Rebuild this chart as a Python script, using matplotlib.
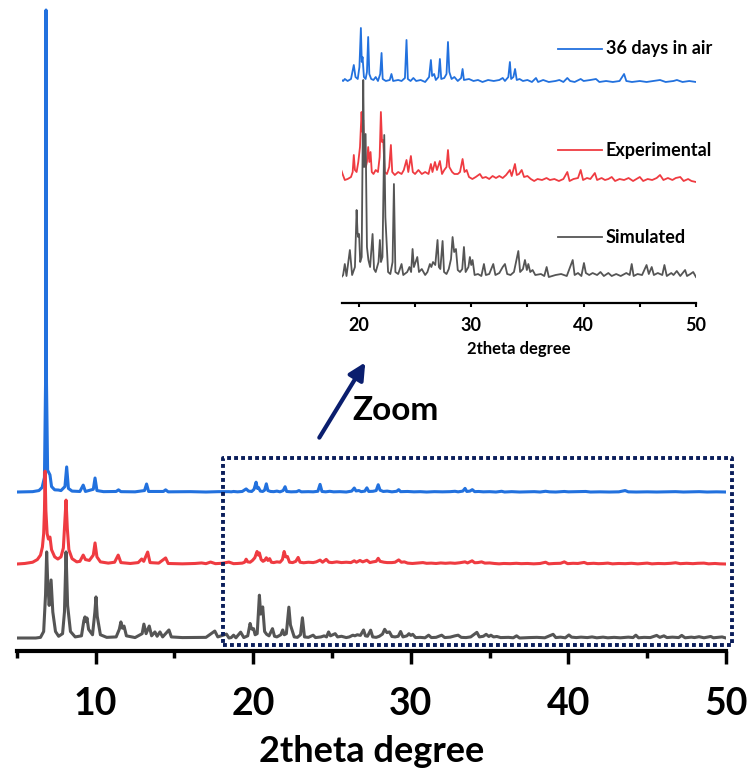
import matplotlib
matplotlib.use('Agg')
import matplotlib.pyplot as plt
import numpy as np

plt.rcParams['font.family'] = ['Lato', 'DejaVu Sans']
plt.rcParams['font.weight'] = 'bold'

# (2theta, intensity a.u.)
sim_points = [
    (5.0, 0), (6.2, 0), (6.5, 3), (6.7, 30), (6.82, 200), (6.89, 396), (6.96, 250),
    (7.05, 150), (7.17, 267), (7.28, 120), (7.45, 30), (7.65, 8), (7.9, 20), (8.02, 120),
    (8.12, 396), (8.22, 150), (8.4, 30), (8.7, 5), (9.1, 10), (9.25, 80), (9.32, 97),
    (9.39, 75), (9.45, 92), (9.55, 40), (9.8, 15), (9.95, 120), (10.02, 189), (10.1, 100),
    (10.3, 15), (10.7, 3), (11.3, 5), (11.5, 40), (11.6, 74), (11.7, 45), (11.8, 55),
    (11.95, 10), (12.5, 2), (12.95, 20), (13.06, 64), (13.2, 20), (13.4, 55), (13.55, 10),
    (13.76, 28), (13.9, 8), (14.08, 28), (14.25, 5), (14.65, 37), (14.8, 5), (15.5, 2),
    (17.0, 3), (17.56, 32), (17.75, 5), (18.3, 18), (18.46, 0), (18.6, 2), (18.75, 13),
    (18.9, 1), (19.2, 27), (19.4, 2), (19.65, 10), (19.8, 67), (19.88, 45), (19.94, 40),
    (20.02, 43), (20.12, 15), (20.25, 20), (20.39, 197), (20.47, 110), (20.6, 143),
    (20.72, 30), (20.85, 17), (21.0, 10), (21.22, 43), (21.35, 8), (21.5, 5), (21.75, 15),
    (21.87, 37), (21.97, 15), (22.1, 20), (22.26, 142), (22.36, 60), (22.46, 37), (22.6, 5),
    (22.8, 3), (23.0, 15), (23.12, 93), (23.25, 5), (23.5, 3), (23.8, 13), (23.95, 2),
    (24.3, 5), (24.5, 10), (24.65, 5), (24.78, 28), (24.9, 10), (25.2, 20), (25.35, 5),
    (25.6, 8), (25.9, 2), (26.1, 5), (26.32, 13), (26.45, 10), (26.6, 15), (26.8, 12),
    (27.0, 37), (27.12, 10), (27.25, 8), (27.45, 36), (27.58, 5), (27.8, 3), (28.0, 8),
    (28.2, 18), (28.34, 40), (28.48, 25), (28.64, 28), (28.8, 7), (29.0, 5), (29.2, 8),
    (29.35, 30), (29.5, 5), (29.75, 10), (29.88, 20), (30.0, 12), (30.12, 17), (30.3, 2),
    (30.6, 3), (30.9, 1), (31.13, 13), (31.3, 2), (31.6, 3), (31.96, 13), (32.15, 2),
    (32.5, 4), (32.8, 10), (33.0, 13), (33.2, 3), (33.5, 2), (33.8, 5), (34.19, 26),
    (34.35, 5), (34.6, 8), (34.78, 17), (34.95, 7), (35.08, 13), (35.25, 5), (35.46, 7),
    (35.7, 2), (36.2, 3), (36.5, 1), (36.71, 10), (36.9, 0), (37.5, 2), (38.0, 3),
    (38.5, 1), (39.03, 17), (39.2, 2), (39.5, 4), (39.8, 1), (40.03, 14), (40.2, 4),
    (40.5, 2), (40.8, 4), (41.2, 2), (41.5, 5), (41.8, 1), (42.2, 4), (42.5, 1), (42.9, 3),
    (43.3, 1), (43.8, 4), (44.1, 2), (44.28, 13), (44.45, 1), (44.8, 3), (45.2, 2),
    (45.6, 12), (45.8, 3), (46.06, 10), (46.25, 2), (46.6, 4), (47.0, 2), (47.19, 12),
    (47.4, 1), (47.8, 4), (48.0, 2), (48.29, 6), (48.6, 1), (49.03, 7), (49.2, 1),
    (49.5, 3), (49.75, 5), (50.0, 0),
]

exp_points = [
    (5.0, 0), (5.5, 3), (6.0, 10), (6.3, 25), (6.5, 50), (6.62, 95), (6.7, 170), (6.75, 300),
    (6.79, 520), (6.84, 300), (6.92, 170), (7.0, 140), (7.1, 151), (7.2, 80), (7.4, 40),
    (7.6, 28), (7.8, 40), (7.95, 90), (8.05, 250), (8.12, 358), (8.2, 200), (8.3, 80),
    (8.5, 30), (8.8, 12), (9.0, 15), (9.21, 50), (9.35, 25), (9.6, 20), (9.85, 50),
    (9.96, 118), (10.08, 40), (10.3, 12), (10.8, 5), (11.2, 10), (11.43, 50), (11.6, 8),
    (12.2, 3), (12.7, 8), (12.92, 28), (13.05, 15), (13.3, 67), (13.45, 8), (14.0, 5),
    (14.44, 34), (14.6, 3), (15.5, 1), (16.3, 3), (16.72, 6), (17.0, 2), (17.29, 11),
    (17.6, 2), (18.0, 4), (18.46, 11), (18.55, 8), (18.75, 2), (19.0, 3), (19.3, 5),
    (19.45, 10), (19.55, 27), (19.65, 12), (19.8, 10), (19.95, 20), (20.1, 35), (20.24, 70),
    (20.32, 50), (20.39, 62), (20.5, 25), (20.62, 15), (20.72, 20), (20.83, 35), (20.93, 20),
    (21.04, 30), (21.15, 10), (21.3, 8), (21.5, 12), (21.7, 10), (21.85, 25), (21.96, 70),
    (22.06, 40), (22.17, 42), (22.3, 10), (22.5, 8), (22.7, 15), (22.85, 37), (22.97, 10),
    (23.2, 7), (23.5, 10), (23.8, 8), (24.0, 12), (24.24, 22), (24.4, 10), (24.63, 26),
    (24.8, 10), (25.0, 8), (25.3, 12), (25.6, 8), (25.9, 10), (26.2, 8), (26.41, 18),
    (26.55, 10), (26.77, 20), (26.95, 12), (27.21, 21), (27.4, 8), (27.6, 12), (27.8, 15),
    (27.93, 32), (28.05, 15), (28.3, 10), (28.5, 8), (28.8, 8), (29.0, 10), (29.23, 23),
    (29.4, 10), (29.59, 12), (29.8, 5), (30.1, 3), (30.4, 5), (30.77, 8), (31.0, 4),
    (31.3, 5), (31.6, 3), (31.9, 6), (32.2, 4), (32.5, 6), (32.8, 4), (33.1, 7), (33.44, 12),
    (33.6, 6), (33.89, 18), (34.05, 7), (34.25, 8), (34.49, 12), (34.7, 5), (35.0, 6),
    (35.3, 3), (35.6, 1), (35.9, 3), (36.3, 2), (36.7, 4), (37.0, 2), (37.4, 3), (37.8, 1),
    (38.2, 3), (38.55, 10), (38.75, 1), (39.1, 3), (39.5, 4), (39.74, 12), (39.95, 2),
    (40.3, 4), (40.6, 3), (41.0, 9), (41.2, 2), (41.6, 4), (41.9, 2), (42.2, 3), (42.5, 5),
    (42.8, 1), (43.2, 3), (43.6, 2), (44.0, 4), (44.4, 1), (44.7, 3), (45.0, 5), (45.3, 1),
    (45.7, 3), (46.1, 2), (46.5, 4), (46.8, 7), (47.1, 2), (47.5, 4), (47.9, 2), (48.2, 4),
    (48.6, 5), (48.9, 1), (49.3, 3), (49.6, 1), (50.0, 0),
]

air_points = [
    (5.0, 0), (6.0, 2), (6.4, 8), (6.6, 25), (6.75, 80), (6.82, 600), (6.85, 2651),
    (6.88, 600), (6.95, 120), (7.1, 94), (7.2, 30), (7.4, 12), (7.63, 11), (7.8, 8),
    (8.05, 30), (8.16, 138), (8.27, 20), (8.5, 5), (9.0, 3), (9.21, 38), (9.35, 3),
    (9.85, 15), (9.96, 77), (10.08, 8), (10.5, 2), (11.3, 3), (11.45, 12), (11.6, 2),
    (12.5, 1), (13.1, 8), (13.23, 44), (13.36, 3), (14.3, 3), (14.44, 12), (14.6, 1),
    (16.0, 2), (17.0, 0), (17.8, 2), (18.46, 2), (18.6, 1), (18.75, 3), (19.0, 1),
    (19.3, 3), (19.55, 17), (19.7, 5), (19.9, 3), (20.05, 15), (20.18, 54), (20.26, 20),
    (20.33, 25), (20.45, 5), (20.6, 3), (20.72, 10), (20.83, 45), (20.93, 8), (21.1, 3),
    (21.3, 2), (21.5, 5), (21.7, 1), (21.9, 8), (22.02, 29), (22.12, 3), (22.4, 1),
    (22.75, 2), (22.9, 8), (23.05, 1), (23.5, 2), (23.8, 1), (24.1, 4), (24.24, 42),
    (24.36, 3), (24.6, 1), (24.85, 4), (25.1, 1), (25.5, 2), (25.9, 0), (26.25, 5),
    (26.41, 22), (26.52, 6), (26.7, 8), (26.85, 2), (27.08, 5), (27.21, 23), (27.33, 3),
    (27.6, 4), (27.8, 8), (27.93, 40), (28.05, 10), (28.25, 3), (28.5, 5), (28.8, 1),
    (29.1, 4), (29.23, 13), (29.35, 2), (29.8, 3), (30.2, 1), (30.6, 2), (31.0, 0),
    (31.5, 2), (32.0, 1), (32.5, 2), (32.8, 4), (33.0, 1), (33.3, 5), (33.44, 20),
    (33.55, 3), (33.75, 5), (33.9, 13), (34.05, 2), (34.3, 3), (34.6, 1), (35.0, 2),
    (35.4, 0), (35.76, 4), (35.95, 0), (36.4, 2), (36.9, 0), (37.5, 1), (37.84, 2),
    (38.2, 0), (38.55, 4), (38.8, 1), (39.2, 0), (39.74, 3), (40.0, 1), (40.6, 2),
    (41.1, 3), (41.4, 0), (42.0, 1), (42.6, 0), (43.2, 1), (43.6, 8), (43.8, 1), (44.3, 0),
    (45.0, 1), (45.6, 0), (46.2, 1), (46.8, 2), (47.3, 0), (48.0, 1), (48.3, 2), (48.8, 0),
    (49.4, 1), (50.0, 0),
]

labels = ['36 days in air', 'Experimental', 'Simulated']
colors = ['#2271de', '#ef3b41', '#555555']
series = [air_points, exp_points, sim_points]

# vertical offsets / scale factors for the two panels
main_offsets = [159, 87, 13]
main_scale = [1 / 5.5, 1 / 5.6, 1 / 4.6]
inset_offsets = [221, 121, 26]

fig = plt.figure(figsize=(7.5, 7.74), dpi=100)

ax = fig.add_axes([0.0225, 0.1589, 0.9455, 0.8346])
for pts, c, off, sc in zip(series, colors, main_offsets, main_scale):
    xy = np.array(pts, dtype=float)
    ax.plot(xy[:, 0], off + xy[:, 1] * sc, color=c, lw=2.2, solid_joinstyle='round')
ax.set_xlim(5, 50)
ax.set_ylim(0, 646)
for s in ['left', 'right', 'top']:
    ax.spines[s].set_visible(False)
ax.spines['bottom'].set_linewidth(3)
ax.set_yticks([])
ax.set_xticks([10, 20, 30, 40, 50])
ax.set_xticks([5, 15, 25, 35, 45], minor=True)
ax.tick_params(axis='x', which='major', direction='out', length=9, width=2.5,
               labelsize=27, pad=17)
ax.tick_params(axis='x', which='minor', direction='out', length=5, width=2.5)
ax.set_xlabel('2theta degree', fontsize=26, fontweight='bold', labelpad=10)

# dotted zoom box
bx = [18.1, 50.35, 50.35, 18.1, 18.1]
by = [6, 6, 193, 193, 6]
ax.plot(bx, by, color='#0b1e5b', lw=2.8, linestyle=(0, (1.0, 0.8)),
        dash_capstyle='butt', clip_on=False)

ax.annotate('', xy=(27.2, 291), xytext=(24.1, 211),
            arrowprops=dict(arrowstyle='-|>', color='#0a1e6e', lw=3, mutation_scale=25))
ax.text(29.0, 241, 'Zoom', fontsize=24, fontweight='bold', ha='center', va='center')

# inset
ax2 = fig.add_axes([0.456, 0.6085, 0.472, 0.3786])
for pts, c, off in zip(series, colors, inset_offsets):
    xy = np.array(pts, dtype=float)
    m = xy[:, 0] >= 18.4
    ax2.plot(xy[m, 0], off + xy[m, 1], color=c, lw=1.3)
ax2.set_xlim(18.5, 50)
ax2.set_ylim(0, 293)
for s in ['left', 'right', 'top']:
    ax2.spines[s].set_visible(False)
ax2.spines['bottom'].set_linewidth(1.6)
ax2.set_yticks([])
ax2.set_xticks([20, 30, 40, 50])
ax2.set_xticks([25, 35, 45], minor=True)
ax2.tick_params(axis='x', which='major', direction='out', length=3, width=1.5,
                labelsize=13, pad=7)
ax2.tick_params(axis='x', which='minor', direction='out', length=3, width=1.5)
ax2.set_xlabel('2theta degree', fontsize=12, fontweight='bold', labelpad=5)

# legend entries
leg_y = [0.867, 0.522, 0.225]
for lab, c, yy in zip(labels, colors, leg_y):
    ax2.plot([0.61, 0.735], [yy, yy], color=c, lw=1.3, transform=ax2.transAxes)
    ax2.text(0.745, yy, lab, transform=ax2.transAxes, fontsize=13,
             fontweight='bold', va='center', ha='left')

fig.savefig('out.png', dpi=100)
